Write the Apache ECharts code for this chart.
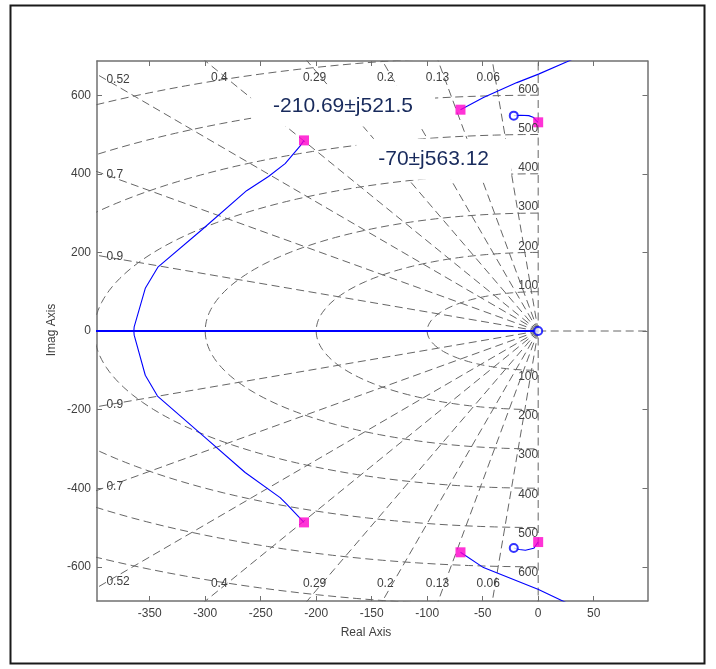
<!DOCTYPE html>
<html><head><meta charset="utf-8">
<script src="https://cdn.jsdelivr.net/npm/echarts@6/dist/echarts.min.js"></script>
<style>html,body{margin:0;padding:0;background:#fff}#c{width:716px;height:669px}</style>
</head><body><div id="c"></div>
<script>
// ---- data ----
const xTicks = [-350, -300, -250, -200, -150, -100, -50, 0, 50];
const yTicks = [-600, -400, -200, 0, 200, 400, 600];
const zetaValues = [0.06, 0.13, 0.2, 0.29, 0.4, 0.52, 0.7, 0.9];
const zetaLabels = ['0.06', '0.13', '0.2', '0.29', '0.4', '0.52', '0.7', '0.9'];
const wnValues = [100, 200, 300, 400, 500, 600, 700, 800];
const wnLabels = ['100', '200', '300', '400', '500', '600'];

// root-locus branches
const branchBigUpper = [[-211, 485], [-214.6, 470.5], [-228, 426], [-243, 393], [-262.7, 357], [-303, 257.7], [-342.4, 163.3], [-354, 108.6], [-364, 10.7], [-364.3, 0]];
const branchBigLower = [[-364.3, 0], [-364, -10.5], [-354, -112.6], [-343, -165.5], [-300.5, -270], [-264, -360], [-232.5, -424], [-226.6, -440.6], [-211, -487]];
const branchOuterUpper = [[-70, 563.12], [-49.3, 594], [-19.2, 632], [0.3, 653.6], [25.9, 685], [32, 693]];
const branchOuterLower = [[-70, -563.12], [-49.3, -602], [0.3, -657.7], [27.3, -694]];
const branchInnerUpper = [[0, 531], [-2, 536], [-4, 543], [-8.5, 548], [-16, 549], [-22, 548]];
const branchInnerLower = [[0, -537], [-4, -553], [-11.5, -558], [-17, -556], [-22, -552]];
const branchRealAxis = [[-400, 0], [0, 0]];
const poles = [[-211, 485], [-211, -487], [-70, 563.12], [-70, -563.12], [0, 531], [0, -537]];
const zeros = [[0, 0], [-22, 548], [-22, -552]];
const annotationTexts = ['-210.69±j521.5', '-70±j563.12'];

// ---- chart ----
const X_MIN = -397.5, X_MAX = 98.5, Y_MIN = -687, Y_MAX = 687;
const GRID_C = '#666666';
const dashStyle = { color: GRID_C, width: 1, type: [8, 4.5] };
const series = [];
function gridLine(data) {
  series.push({ type: 'line', data, symbol: 'none', silent: true, clip: true, z: 1,
    lineStyle: dashStyle, animation: false });
}
// damping-ratio rays
zetaValues.concat([1]).forEach(z => {
  const s = Math.sqrt(1 - z * z);
  gridLine([[0, 0], [-1500 * z, 1500 * s]]);
  gridLine([[0, 0], [-1500 * z, -1500 * s]]);
});
// imaginary axis (zeta = 0) and right real axis
gridLine([[0, -1500], [0, 1500]]);
gridLine([[0, 0], [300, 0]]);
// natural-frequency semicircles
wnValues.forEach(w => {
  const pts = [];
  for (let a = 90; a <= 270; a += 1.5) {
    const r = a * Math.PI / 180;
    pts.push([w * Math.cos(r), w * Math.sin(r)]);
  }
  gridLine(pts);
});
function locus(data, w) {
  series.push({ type: 'line', data, symbol: 'none', silent: true, clip: true, z: 3,
    lineStyle: { color: '#0000ff', width: w || 1.1 }, animation: false });
}
locus(branchRealAxis, 2);
[branchBigUpper, branchBigLower, branchOuterUpper, branchOuterLower, branchInnerUpper, branchInnerLower].forEach(b => locus(b));
series.push({ type: 'scatter', data: poles, symbol: 'rect', symbolSize: 10, z: 5,
  itemStyle: { color: '#ff00cc' }, silent: true, animation: false });
series.push({ type: 'scatter', data: zeros, symbol: 'emptyCircle', symbolSize: 8, z: 5,
  itemStyle: { color: '#0000ff', borderWidth: 1.3 }, silent: true, animation: false });

const axisLineStyle = { show: true, onZero: false, lineStyle: { color: '#707070', width: 1.5 } };
const tickStyle = { inside: true, length: 5, lineStyle: { color: '#707070', width: 1 } };
function xAx(pos, labels) {
  return { type: 'value', position: pos, min: X_MIN, max: X_MAX,
    axisLine: axisLineStyle, splitLine: { show: false },
    axisTick: Object.assign({ customValues: xTicks }, tickStyle),
    axisLabel: { show: labels, customValues: xTicks, color: '#404040', fontSize: 12, fontFamily: 'Liberation Sans, Arial', margin: 7 } };
}
function yAx(pos, labels) {
  return { type: 'value', position: pos, min: Y_MIN, max: Y_MAX,
    axisLine: axisLineStyle, splitLine: { show: false },
    axisTick: Object.assign({ customValues: yTicks }, tickStyle),
    axisLabel: { show: labels, customValues: yTicks, color: '#404040', fontSize: 12, fontFamily: 'Liberation Sans, Arial', margin: 6 } };
}
const chart = echarts.init(document.getElementById('c'), null, { renderer: 'canvas' });
chart.setOption({
  animation: false,
  backgroundColor: '#ffffff',
  grid: { left: 97, right: 68.5, top: 61, bottom: 68, containLabel: false },
  xAxis: [xAx('bottom', true), Object.assign(xAx('top', false), { axisLabel: { show: false } })],
  yAxis: [yAx('left', true), Object.assign(yAx('right', false), { axisLabel: { show: false } })],
  series
});

// ---- text overlays ----
const P = (x, y) => chart.convertToPixel({ gridIndex: 0 }, [x, y]);
const font = '12px "Liberation Sans", Arial, sans-serif';
const g = [];
function txt(p, text, align, valign, extra) {
  g.push(Object.assign({ type: 'text', x: p[0], y: p[1], z: 20, silent: true,
    style: { text, font, fill: '#404040', align, verticalAlign: valign } }, extra || {}));
}
// zeta labels
zetaValues.forEach((z, i) => {
  const s = Math.sqrt(1 - z * z);
  const yi = 389 * s / z;
  [1, -1].forEach(sg => {
    if (yi <= 650) {
      txt(P(-389, sg * yi), zetaLabels[i], 'left', 'middle');
    } else {
      const p = P(-644 * z / s, sg * 644);
      txt([p[0] - 7, p[1]], zetaLabels[i], 'center', 'middle');
    }
  });
});
// wn labels
wnValues.forEach((w, i) => {
  if (i >= wnLabels.length) return;
  txt(P(0, w), wnLabels[i], 'right', 'bottom');
  txt(P(0, -w), wnLabels[i], 'right', 'top');
});
// annotation boxes
const annPos = [[-175.8, 572.7], [-94.2, 437.3]];
annotationTexts.forEach((t, i) => {
  const p = P(annPos[i][0], annPos[i][1]);
  g.push({ type: 'text', x: p[0], y: p[1], z: 15, silent: true,
    style: { text: t, font: '21px "Liberation Sans", Arial, sans-serif', fill: '#182a5c',
      align: 'center', verticalAlign: 'middle', backgroundColor: '#ffffff', padding: [10, 22] } });
});
// axis titles
g.push({ type: 'text', x: 366, y: 633, silent: true,
  style: { text: 'Real Axis', font, fill: '#404040', align: 'center', verticalAlign: 'middle' } });
g.push({ type: 'text', x: 52, y: 330, rotation: Math.PI / 2, silent: true,
  style: { text: 'Imag Axis', font, fill: '#404040', align: 'center', verticalAlign: 'middle' } });
// figure frame
g.push({ type: 'rect', shape: { x: 10.5, y: 5.5, width: 694, height: 658 }, silent: true, z: 0,
  style: { fill: 'none', stroke: '#1a1a1a', lineWidth: 2 } });
chart.setOption({ graphic: g });
</script></body></html>
